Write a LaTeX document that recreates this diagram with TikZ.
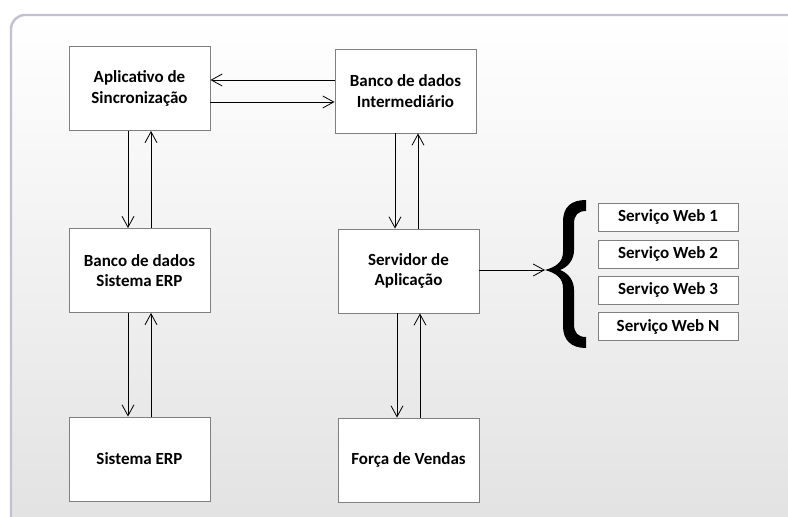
\documentclass[tikz,border=0pt]{standalone}
\usepackage{fontspec}
\setmainfont{Carlito}
\usetikzlibrary{arrows.meta}
\definecolor{framec}{HTML}{C4C0D0}
\definecolor{boxc}{HTML}{808080}
\begin{document}
\begin{tikzpicture}[x=1pt,y=-1pt,
  box/.style={draw=boxc,line width=0.9pt,fill=white,minimum width=141pt,minimum height=84pt,
    align=center,inner sep=2pt,font=\fontsize{17}{20.5}\selectfont\bfseries},
  svc/.style={draw=boxc,line width=0.9pt,fill=white,minimum width=140pt,minimum height=28pt,
    inner sep=1pt,font=\fontsize{17}{20.5}\selectfont\bfseries},
  arr/.style={line width=0.8pt,-{Straight Barb[length=11pt,width=12pt,line width=0.8pt]}}]
\useasboundingbox (0,0) rectangle (788,517);
\fill[white] (0,0) rectangle (788,517);
\shade[top color=white,bottom color=black!12,rounded corners=14pt]
  (11,15) rectangle (820,560);
\draw[framec,line width=2.4pt,rounded corners=14pt] (820,15) -- (11,15) -- (11,560);

\node[box] (b1) at (139.5,88.5) {Aplicativo de\\Sincronização};
\node[box] (b2) at (405.5,91) {Banco de dados\\Intermediário};
\node[box] (b3) at (139.5,270.5) {Banco de dados\\Sistema ERP};
\node[box] (b4) at (408.5,271) {Servidor de\\Aplicação};
\node[box] (b5) at (139.5,459) {Sistema ERP};
\node[box] (b6) at (408.5,460) {Força de Vendas};

\node[svc] (s1) at (668,217) {Serviço Web 1};
\node[svc] (s2) at (668,254) {Serviço Web 2};
\node[svc] (s3) at (668,290) {Serviço Web 3};
\node[svc] (s4) at (668,326.5) {Serviço Web N};

\draw[arr] (b2.west |- 0,80) -- (b1.east |- 0,80);
\draw[arr] (b1.east |- 0,102) -- (b2.west |- 0,102);

\draw[arr] (b1.south -| 128,0) -- (b3.north -| 128,0);
\draw[arr] (b3.north -| 151,0) -- (b1.south -| 151,0);
\draw[arr] (b2.south -| 395,0) -- (b4.north -| 395,0);
\draw[arr] (b4.north -| 418,0) -- (b2.south -| 418,0);
\draw[arr] (b3.south -| 128,0) -- (b5.north -| 128,0);
\draw[arr] (b5.north -| 151,0) -- (b3.south -| 151,0);
\draw[arr] (b4.south -| 397,0) -- (b6.north -| 397,0);
\draw[arr] (b6.north -| 420,0) -- (b4.south -| 420,0);

\coordinate (tip) at (545,270);
\draw[arr] (b4.east |- tip) -- (tip);
\fill[line join=round]
  (586,200) .. controls (571,200) and (563,207) .. (563,222) -- (563,252)
  .. controls (563,262) and (556,267) .. (tip)
  .. controls (556,273) and (563,278) .. (563,288) -- (563,326)
  .. controls (563,340) and (571,348) .. (586,348)
  -- (586,337)
  .. controls (578,337) and (574,333) .. (574,324) -- (574,290)
  .. controls (574,280) and (568,273) .. (560,270)
  .. controls (568,267) and (574,260) .. (574,250) -- (574,224)
  .. controls (574,215) and (578,211) .. (586,211) -- cycle;
\end{tikzpicture}
\end{document}
